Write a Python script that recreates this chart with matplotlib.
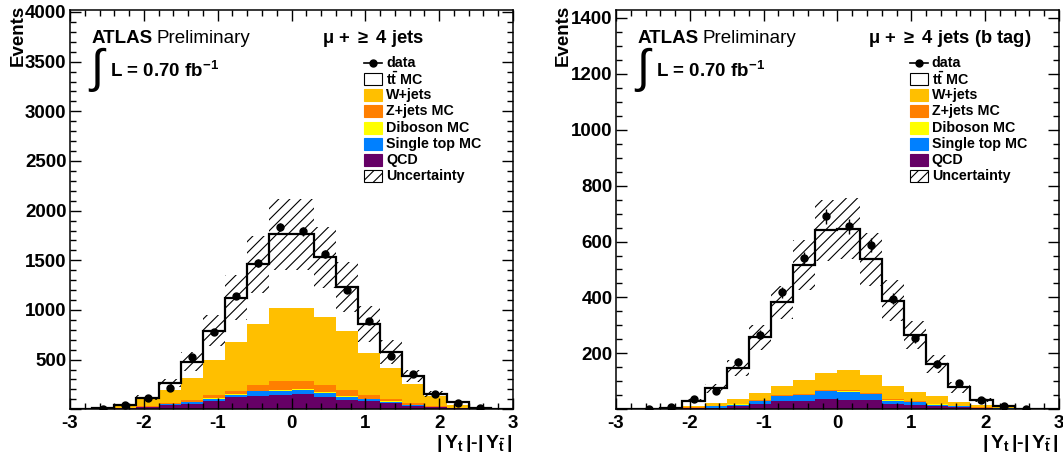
import numpy as np
import matplotlib
matplotlib.use("Agg")
import matplotlib.pyplot as plt
from matplotlib.patches import Rectangle
from matplotlib.lines import Line2D
from matplotlib.ticker import MultipleLocator, FuncFormatter

plt.rcParams["font.family"] = ["Liberation Sans", "DejaVu Sans"]
plt.rcParams["font.weight"] = "bold"
plt.rcParams["axes.unicode_minus"] = False
plt.rcParams["mathtext.fontset"] = "custom"
plt.rcParams["mathtext.rm"] = "Liberation Sans:bold"
plt.rcParams["mathtext.bf"] = "Liberation Sans:bold"
plt.rcParams["mathtext.it"] = "Liberation Sans:bold"
plt.rcParams["hatch.linewidth"] = 0.8

# 20 bins of |Y_t|-|Y_tbar| between -3 and 3
bin_edges = np.linspace(-3, 3, 21)
bin_centres = 0.5 * (bin_edges[:-1] + bin_edges[1:])

labels = ["QCD", "Single top MC", "Diboson MC", "Z+jets MC", "W+jets", "tt MC"]
colours = ["#660066", "#0080ff", "#ffff00", "#ff7f00", "#ffbf00"]

# --- mu + >= 4 jets ---
qcd_4j = [2, 5, 10, 20, 40, 54, 88, 122, 136, 142, 150, 125, 96, 80, 62, 38, 20, 8, 3, 1]
stop_4j = [0, 1, 3, 6, 10, 18, 18, 26, 46, 46, 45, 43, 31, 22, 16, 7, 5, 2, 1, 0]
dib_4j = [0, 0, 1, 1, 2, 2, 3, 4, 6, 7, 7, 6, 5, 4, 3, 2, 1, 0, 0, 0]
zjets_4j = [0, 1, 2, 6, 15, 16, 33, 34, 56, 87, 84, 74, 62, 38, 23, 15, 4, 2, 1, 0]
wjets_4j = [1, 1, 17, 71, 127, 221, 353, 490, 618, 741, 737, 678, 592, 420, 311, 188, 100, 33, 5, 1]
ttbar_4j = [0, 2, 7, 13, 74, 169, 298, 446, 596, 739, 739, 604, 445, 298, 162, 84, 28, 30, 2, 1]
unc_4j = [1, 3, 10, 22, 40, 95, 160, 225, 290, 360, 360, 310, 250, 180, 125, 60, 30, 12, 3, 1]
data_4j = [np.nan, 7, 47, 112, 217, 522, 783, 1140, 1475, 1836, 1792, 1560, 1204, 886, 535, 351,
           154, 60, 13, np.nan]

# --- mu + >= 4 jets (b tag) ---
qcd_bt = [0.5, 1, 2, 4, 6, 12, 19, 31, 31, 38, 35, 32, 18, 14, 11, 7, 4, 2, 1, 0.5]
stop_bt = [0, 0, 1, 2, 4, 5, 10, 17, 20, 26, 28, 21, 13, 11, 6, 3, 2, 1, 0, 0]
dib_bt = [0, 0, 0, 0, 0.5, 0.5, 1, 1, 1, 1.5, 1.5, 1, 1, 1, 0.5, 0.5, 0, 0, 0, 0]
zjets_bt = [0, 0, 0.5, 1, 0.5, 1.5, 2, 2, 3, 3.5, 3.5, 3, 5, 4, 1.5, 0.5, 1, 3, 0.5, 0]
wjets_bt = [0.5, 1, 1.5, 6, 13, 18, 28, 33, 50, 61, 73, 66, 47, 33, 27, 15, 7, 3, 0.5, 0.5]
ttbar_bt = [0, 0, 1, 18, 51, 111, 198, 298, 412, 510, 505, 414, 305, 203, 115, 52, 19, 1, 0, 0]
unc_bt = [0.5, 1, 2, 6, 15, 30, 45, 60, 90, 110, 110, 95, 72, 50, 32, 20, 8, 3, 1, 0.5]
data_bt = [np.nan, 1, 9, 37, 67, 169, 266, 418, 541, 690, 654, 588, 395, 254, 162, 94, 33, 12, 1, np.nan]


def draw_panel(ax, comps, unc, data, ymax, major, minor, channel):
    cum = np.zeros(len(bin_centres))
    for vals, col in zip(comps[:-1], colours):
        top = cum + np.array(vals, dtype=float)
        ax.stairs(top, bin_edges, baseline=cum, fill=True, color=col, lw=0)
        cum = top
    total = cum + np.array(comps[-1], dtype=float)
    ax.stairs(total, bin_edges, baseline=0, color="black", lw=1.6)
    unc = np.array(unc, dtype=float)
    ax.stairs(total + unc, bin_edges, baseline=total - unc, fill=True,
              facecolor="none", edgecolor="black", hatch="///", lw=0)
    data = np.array(data, dtype=float)
    ax.errorbar(bin_centres, data, yerr=np.sqrt(data), fmt="o", color="black",
                ms=5, elinewidth=1, capsize=0, zorder=5)

    ax.set_xlim(-3, 3)
    ax.set_ylim(0, ymax)
    ax.xaxis.set_major_locator(MultipleLocator(1))
    ax.xaxis.set_minor_locator(MultipleLocator(0.2))
    ax.yaxis.set_major_locator(MultipleLocator(major))
    ax.yaxis.set_minor_locator(MultipleLocator(minor))
    ax.yaxis.set_major_formatter(FuncFormatter(lambda v, p: "" if v == 0 else f"{v:.0f}"))
    ax.tick_params(which="both", direction="in", top=True, right=True, width=1)
    ax.tick_params(which="major", length=8, labelsize=13.5)
    ax.tick_params(axis="y", which="major", pad=2.5)
    ax.tick_params(axis="x", which="major", pad=4)
    ax.tick_params(which="minor", length=4.3)
    for s in ax.spines.values():
        s.set_linewidth(1.1)

    ax.text(-0.118, 1.012, "Events", rotation=90, ha="center", va="top",
            fontsize=13.5, transform=ax.transAxes)
    ax.text(1.0, -0.06, r"$|\,Y_{t}\,|$-$|\,Y_{\bar{t}}\,|$", ha="right", va="top",
            fontsize=14, transform=ax.transAxes)

    ax.text(0.049, 0.917, "ATLAS", fontsize=13.5, transform=ax.transAxes)
    ax.text(0.195, 0.917, "Preliminary", fontsize=13.5, fontweight="normal",
            transform=ax.transAxes)
    ax.text(0.045, 0.850, "\u222b", fontsize=34, fontweight="normal", va="center",
            transform=ax.transAxes)
    ax.text(0.090, 0.831, r"L = 0.70 fb$^{-1}$", fontsize=13.5, transform=ax.transAxes)
    ax.text(0.569, 0.918, channel, fontsize=13.2, transform=ax.transAxes)

    # legend, drawn by hand ROOT style
    x0, bw, bh = 0.664, 0.0406, 0.030
    xt = 0.713
    y0, dy = 0.868, 0.0406
    ax.add_line(Line2D([x0, x0 + bw], [y0, y0], color="black", lw=1.2,
                       transform=ax.transAxes))
    ax.plot([x0 + bw / 2], [y0], "o", color="black", ms=5, transform=ax.transAxes)
    ax.text(xt, y0, "data", fontsize=10.3, va="center", transform=ax.transAxes)
    entries = [("white", r"t$\bar{\rm t}$ MC"), (colours[4], "W+jets"),
               (colours[3], "Z+jets MC"), (colours[2], "Diboson MC"),
               (colours[1], "Single top MC"), (colours[0], "QCD")]
    for i, (col, lab) in enumerate(entries, start=1):
        y = y0 - i * dy
        ec = "black" if col == "white" else col
        ax.add_patch(Rectangle((x0, y - bh / 2), bw, bh, facecolor=col, edgecolor=ec,
                               lw=0.8, transform=ax.transAxes))
        ax.text(xt, y, lab, fontsize=10.3, va="center", transform=ax.transAxes)
    y = y0 - 7 * dy
    ax.add_patch(Rectangle((x0, y - bh / 2), bw, bh, facecolor="white", edgecolor="black",
                           hatch="///", lw=0.8, transform=ax.transAxes))
    ax.text(xt, y, "Uncertainty", fontsize=10.3, va="center", transform=ax.transAxes)


fig = plt.figure(figsize=(10.63, 4.65), dpi=100)
ax1 = fig.add_axes([0.0659, 0.1198, 0.4167, 0.8587])
ax2 = fig.add_axes([0.5795, 0.1198, 0.4167, 0.8587])

draw_panel(ax1, [qcd_4j, stop_4j, dib_4j, zjets_4j, wjets_4j, ttbar_4j], unc_4j, data_4j,
           4020, 500, 100, r"$\mu$ + $\geq$ 4 jets")
draw_panel(ax2, [qcd_bt, stop_bt, dib_bt, zjets_bt, wjets_bt, ttbar_bt], unc_bt, data_bt,
           1428, 200, 50, r"$\mu$ + $\geq$ 4 jets (b tag)")

fig.savefig("out.png", dpi=100)
